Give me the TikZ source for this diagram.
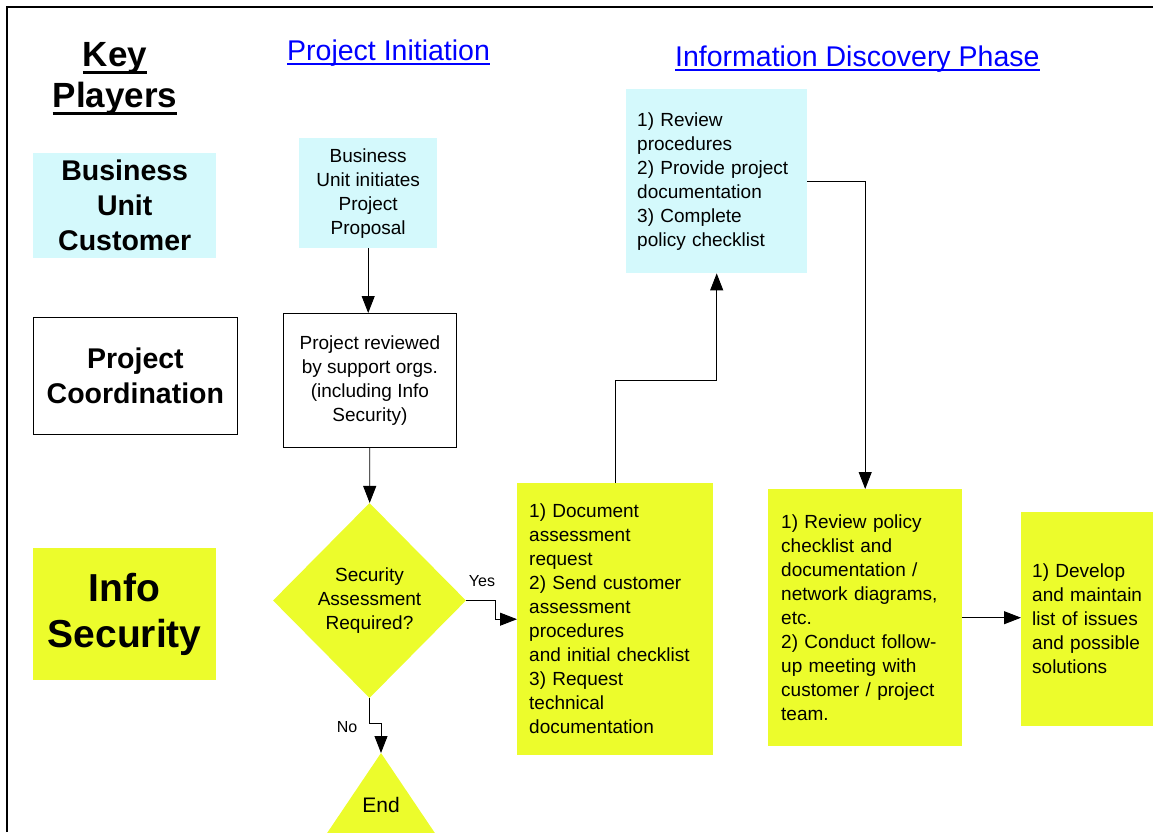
\documentclass[tikz,border=0pt]{standalone}
\usepackage{fontspec}
\setmainfont{Liberation Sans}
\usetikzlibrary{arrows.meta}
\usetikzlibrary{positioning}
\usetikzlibrary{shapes}
\usepackage{xcolor}
\definecolor{custcyan}{RGB}{212,249,252}
\definecolor{secyellow}{RGB}{236,252,44}
\definecolor{linkblue}{RGB}{0,0,255}
\newcommand{\ulbar}[3]{\setbox0=\hbox{#3}\rlap{\raisebox{-#2}{\rule{\wd0}{#1}}}\box0}

\tikzset{
	body/.style={font=\fontsize{19}{24}\selectfont},
	player/.style={font=\bfseries\fontsize{28.5}{35}\selectfont, align=center, anchor=north west, inner sep=0pt},
	heading/.style={font=\fontsize{28.5}{34}\selectfont, text=linkblue, anchor=base west, inner sep=0pt},
	plainbox/.style={body, draw, line width=0.8pt, align=center, anchor=north west, inner sep=0pt},
	cyanbox/.style={body, fill=custcyan, align=center, anchor=north west, inner sep=0pt},
	cyantext/.style={body, fill=custcyan, align=left, anchor=north west, inner ysep=0pt},
	yellowbox/.style={body, fill=secyellow, align=left, anchor=north west, inner ysep=0pt},
	decision/.style={body, diamond, fill=secyellow, align=center, aspect=1, inner sep=0pt},
	answer/.style={font=\fontsize{16}{19}\selectfont, inner sep=0pt},
	flow/.style={-{Triangle[length=17pt,width=13pt]}, line width=0.9pt}
}

\begin{document}
\begin{tikzpicture}[x=1pt, y=-1pt]
	\useasboundingbox (0,0) rectangle (1153,832);
	\draw[line width=2.5pt] (7,832) -- (7,7) -- (1153,7);

	% key players column
	\node[font=\bfseries\fontsize{35}{41}\selectfont, align=center, inner sep=0pt] (keyplayers) at (115,79) {\ulbar{3pt}{7pt}{Key}\\\ulbar{3pt}{7pt}{Players}};
	\node[player, fill=custcyan, minimum width=183, minimum height=105] (custplayer) at (33,153) {Business\\Unit\\Customer};
	\node[player, draw, line width=0.8pt, minimum width=204, minimum height=117] (coordplayer) at (33,317) {Project\\Coordination};
	\node[player, fill=secyellow, minimum width=183, minimum height=132, font=\bfseries\fontsize{39}{46}\selectfont] (secplayer) at (33,548) {Info\\Security};

	% phase headings
	\node[heading] (initiation) at (287,61) {\ulbar{2pt}{4pt}{Project Initiation}};
	\node[heading] (discovery) at (675,67) {\ulbar{2pt}{4pt}{Information Discovery Phase}};

	% project initiation
	\node[cyanbox, minimum width=138, minimum height=110] (proposal) at (299,138) {Business\\Unit initiates\\Project\\Proposal};
	\node[plainbox, minimum width=173, minimum height=134] (reviewed) at (283,313) {Project reviewed\\by support orgs.\\(including Info\\Security)};
	\node[decision, minimum width=193, minimum height=195] (assess) at (369.5,600.5) {Security\\Assessment\\Required?};
	\draw[fill=secyellow, draw=none] (381,753) -- (282,900) -- (480,900) -- cycle;
	\coordinate (endtop) at (381,753);
	\node[font=\fontsize{21}{24}\selectfont, inner sep=0pt] (endlabel) at (381,805) {End};

	% information discovery
	\node[yellowbox, text width=172, inner xsep=12, minimum height=272] (docreq) at (517,483) {1) Document\\assessment\\request\\2) Send customer\\assessment\\procedures\\and initial checklist\\3) Request\\technical\\documentation};
	\node[cyantext, text width=159, inner xsep=11, minimum height=184] (custtasks) at (626,89) {1) Review\\procedures\\2) Provide project\\documentation\\3) Complete\\policy checklist};
	\node[yellowbox, text width=168, inner xsep=13, minimum height=257] (policyreview) at (768,489) {1) Review policy\\checklist and\\documentation /\\network diagrams,\\etc.\\2) Conduct follow-\\up meeting with\\customer / project\\team.};
	\node[yellowbox, text width=118, inner xsep=11, minimum height=214] (issues) at (1021,512) {1) Develop\\and maintain\\list of issues\\and possible\\solutions};

	\node[answer] (yes) at (482,581) {Yes};
	\node[answer] (no) at (347,727) {No};

	\draw[flow] (proposal) -- (proposal |- reviewed.north);
	\draw[flow] (reviewed) -- (assess);
	\draw[flow] (assess.east) -- ++(29,0) |- (docreq.west);
	\draw[flow] (assess.south) -- ++(0,25) -| (endtop);
	\draw[flow] (docreq.north) -- ++(0,-103) -| (custtasks.south);
	\draw[flow] (custtasks.east) -| (policyreview.north);
	\draw[flow] (policyreview.east) -- (policyreview.east -| issues.west);
\end{tikzpicture}
\end{document}
